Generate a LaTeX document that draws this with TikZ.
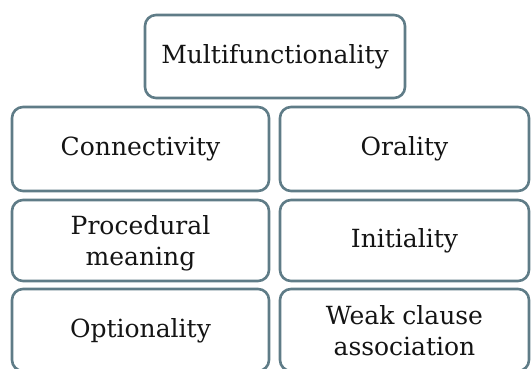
\documentclass[tikz,border=0pt]{standalone}
\usepackage{fontspec}
\setmainfont{DejaVu Serif}
\definecolor{edge}{HTML}{5F7C87}
\definecolor{ink}{HTML}{141414}
\begin{document}
\begin{tikzpicture}[x=1pt,y=-1pt,
  cell/.style={draw=edge,line width=2.6pt,rounded corners=11pt,fill=white},
  lbl/.style={text=ink,align=center,font=\fontsize{25}{31}\selectfont,inner sep=0pt}]
\useasboundingbox (0,0) rectangle (531,369);
\draw[cell] (145,15) rectangle (405,98);
\node[lbl] (multi) at (275,56.5) {Multifunctionality};
\draw[cell] (12,107) rectangle (269,191);
\node[lbl] (conn) at (140.5,149) {Connectivity};
\draw[cell] (280,107) rectangle (529,191);
\node[lbl] (oral) at (404.5,149) {Orality};
\draw[cell] (12,200) rectangle (269,281);
\node[lbl] (proc) at (140.5,243) {Procedural\\meaning};
\draw[cell] (280,200) rectangle (529,281);
\node[lbl] (init) at (404.5,241) {Initiality};
\draw[cell] (12,289) rectangle (269,371);
\node[lbl] (opt) at (140.5,331) {Optionality};
\draw[cell] (280,289) rectangle (529,371);
\node[lbl] (weak) at (404.5,331) {Weak clause\\association};
\end{tikzpicture}
\end{document}
